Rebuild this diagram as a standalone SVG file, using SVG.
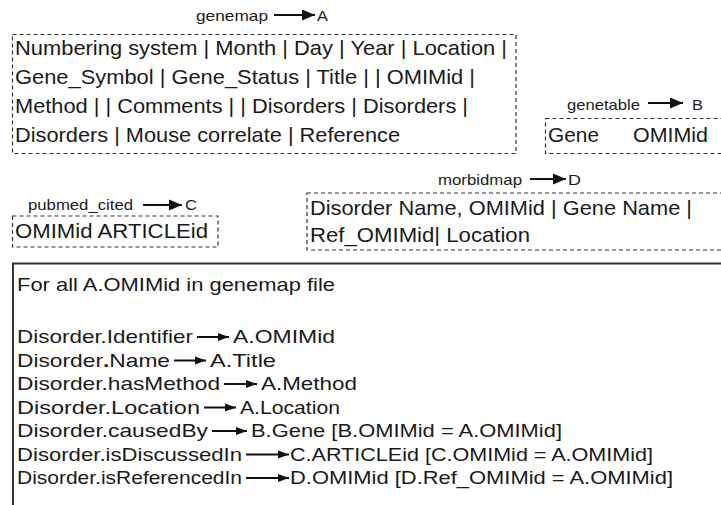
<svg xmlns="http://www.w3.org/2000/svg" width="721" height="505" viewBox="0 0 721 505">
<style>
text{font-family:"Liberation Sans",Arial,Helvetica,sans-serif;fill:#1a1a1a}
.lbl{font-size:15px}
.big{font-size:21px}
.rule{font-size:18.5px}
.dash{fill:none;stroke:#333;stroke-width:1.2;stroke-dasharray:4 3}
.arr{fill:none;stroke:#111;stroke-width:2}
</style>
<defs>
<marker id="hd" markerUnits="userSpaceOnUse" markerWidth="14" markerHeight="12" refX="13" refY="6" orient="auto">
<path d="M0,0.5 L13,6 L0,11.5 Z" fill="#111"/>
</marker>
<marker id="hs" markerUnits="userSpaceOnUse" markerWidth="12" markerHeight="10" refX="11" refY="5" orient="auto">
<path d="M0,1 L11,5 L0,9 Z" fill="#111"/>
</marker>
</defs>

<g id="nodeA">
<text class="lbl" x="196" y="21" textLength="72" lengthAdjust="spacingAndGlyphs">genemap</text>
<text class="lbl" x="317" y="21" textLength="11" lengthAdjust="spacingAndGlyphs">A</text>
<rect class="dash" x="12.5" y="34.5" width="503.5" height="119"/>
<text class="big" x="15" y="55" textLength="492" lengthAdjust="spacingAndGlyphs">Numbering system | Month | Day | Year | Location |</text>
<text class="big" x="15" y="84" textLength="460" lengthAdjust="spacingAndGlyphs">Gene_Symbol | Gene_Status | Title | | OMIMid |</text>
<text class="big" x="15" y="113" textLength="453" lengthAdjust="spacingAndGlyphs">Method | | Comments | | Disorders | Disorders |</text>
<text class="big" x="15" y="142" textLength="385" lengthAdjust="spacingAndGlyphs">Disorders | Mouse correlate | Reference</text>
</g>

<g id="nodeB">
<text class="lbl" x="567" y="110" textLength="73" lengthAdjust="spacingAndGlyphs">genetable</text>
<text class="lbl" x="692" y="110" textLength="11" lengthAdjust="spacingAndGlyphs">B</text>
<rect class="dash" x="545.5" y="118.5" width="200" height="35"/>
<text class="big" x="548" y="142" textLength="51" lengthAdjust="spacingAndGlyphs">Gene</text>
<text class="big" x="633" y="142" textLength="75" lengthAdjust="spacingAndGlyphs">OMIMid</text>
</g>

<g id="nodeC">
<text class="lbl" x="28" y="210" textLength="105" lengthAdjust="spacingAndGlyphs">pubmed_cited</text>
<text class="lbl" x="185" y="210" textLength="12" lengthAdjust="spacingAndGlyphs">C</text>
<rect class="dash" x="12.5" y="216" width="205.5" height="31"/>
<text class="big" x="15" y="238" textLength="193" lengthAdjust="spacingAndGlyphs">OMIMid  ARTICLEid</text>
</g>

<g id="nodeD">
<text class="lbl" x="438" y="185" textLength="84" lengthAdjust="spacingAndGlyphs">morbidmap</text>
<text class="lbl" x="568" y="185" textLength="13" lengthAdjust="spacingAndGlyphs">D</text>
<rect class="dash" x="307" y="193" width="420" height="57"/>
<text class="big" x="310" y="215" textLength="382" lengthAdjust="spacingAndGlyphs">Disorder Name, OMIMid | Gene Name |</text>
<text class="big" x="310" y="242" textLength="220" lengthAdjust="spacingAndGlyphs">Ref_OMIMid| Location</text>
</g>

<g id="rules">
<path d="M13 505 V263.5 H721" fill="none" stroke="#333" stroke-width="2"/>
<text class="rule" x="17" y="291" textLength="318" lengthAdjust="spacingAndGlyphs">For all A.OMIMid in genemap file</text>
<text class="rule" x="17" y="343" textLength="176" lengthAdjust="spacingAndGlyphs">Disorder.Identifier</text>
<text class="rule" x="233" y="343" textLength="102" lengthAdjust="spacingAndGlyphs">A.OMIMid</text>
<text class="rule" x="17" y="366.5" textLength="153" lengthAdjust="spacingAndGlyphs">Disorder<tspan font-weight="bold">.</tspan>Name</text>
<text class="rule" x="210" y="366.5" textLength="66" lengthAdjust="spacingAndGlyphs">A.Title</text>
<text class="rule" x="17" y="390" textLength="203" lengthAdjust="spacingAndGlyphs">Disorder.hasMethod</text>
<text class="rule" x="261" y="390" textLength="96" lengthAdjust="spacingAndGlyphs">A.Method</text>
<text class="rule" x="17" y="413.5" textLength="183" lengthAdjust="spacingAndGlyphs">Disorder.Location</text>
<text class="rule" x="240" y="413.5" textLength="100" lengthAdjust="spacingAndGlyphs">A.Location</text>
<text class="rule" x="17" y="437" textLength="191" lengthAdjust="spacingAndGlyphs">Disorder.causedBy</text>
<text class="rule" x="251" y="437" textLength="311" lengthAdjust="spacingAndGlyphs">B.Gene [B.OMIMid = A.OMIMid]</text>
<text class="rule" x="17" y="460.5" textLength="225" lengthAdjust="spacingAndGlyphs">Disorder.isDiscussedIn</text>
<text class="rule" x="290" y="460.5" textLength="363" lengthAdjust="spacingAndGlyphs">C.ARTICLEid [C.OMIMid = A.OMIMid]</text>
<text class="rule" x="17" y="484" textLength="225" lengthAdjust="spacingAndGlyphs">Disorder.isReferencedIn</text>
<text class="rule" x="290" y="484" textLength="383" lengthAdjust="spacingAndGlyphs">D.OMIMid [D.Ref_OMIMid = A.OMIMid]</text>
</g>

<g id="connectors">
<path class="arr" d="M274 15 H315" marker-end="url(#hd)"/>
<path class="arr" d="M648 103 H683" marker-end="url(#hd)"/>
<path class="arr" d="M143 205 H182" marker-end="url(#hd)"/>
<path class="arr" d="M530 179 H566" marker-end="url(#hd)"/>
<path class="arr" d="M197 337 H229" marker-end="url(#hs)"/>
<path class="arr" d="M174 360.5 H206" marker-end="url(#hs)"/>
<path class="arr" d="M224 384 H257" marker-end="url(#hs)"/>
<path class="arr" d="M204 407.5 H236" marker-end="url(#hs)"/>
<path class="arr" d="M212 431 H247" marker-end="url(#hs)"/>
<path class="arr" d="M246 454.5 H289" marker-end="url(#hs)"/>
<path class="arr" d="M246 478 H289" marker-end="url(#hs)"/>
</g>
</svg>
